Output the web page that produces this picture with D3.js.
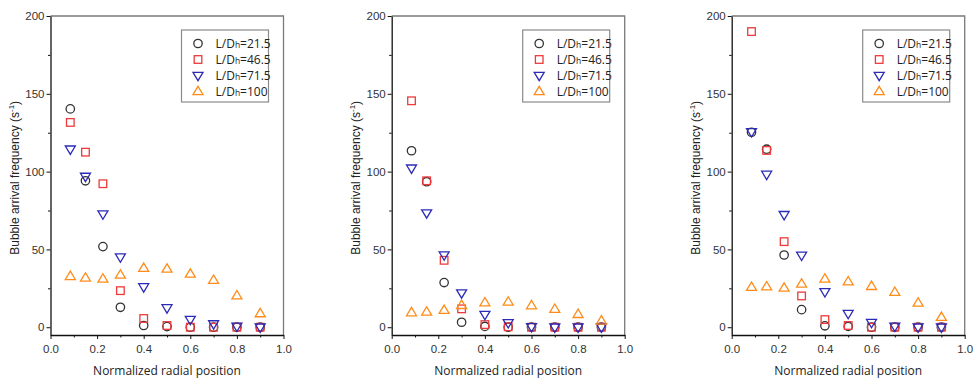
<!DOCTYPE html>
<html><head><meta charset="utf-8">
<script src="https://cdn.jsdelivr.net/npm/d3@7"></script>
<style>body{margin:0;background:#fff}svg{display:block}</style>
</head><body>
<svg id="c" width="973" height="381"></svg>
<script>
const xPos = [0.085, 0.15, 0.225, 0.3, 0.4, 0.5, 0.6, 0.7, 0.8, 0.9];
const seriesNames = ["21.5", "46.5", "71.5", "100"];
const xTicks = [0, 0.2, 0.4, 0.6, 0.8, 1.0];
const yTicks = [0, 50, 100, 150, 200];
// Panel 1
const p1_215 = [140.3, 94.1, 51.8, 12.8, 1.1, 0.4, 0, 0, 0, 0];
const p1_465 = [131.6, 112.5, 92.2, 23.5, 5.6, 1.1, 0, 0, 0, 0];
const p1_715 = [114.4, 96.9, 72.7, 45.1, 25.9, 12.4, 4.9, 2.1, 0.6, 0];
const p1_100 = [32.7, 31.7, 31.0, 33.6, 37.9, 37.4, 34.2, 30.2, 20.3, 8.8];
// Panel 2
const p2_215 = [113.4, 93.5, 28.7, 3.2, 0.5, 0, 0, 0, 0, 0];
const p2_465 = [145.5, 94.1, 43.0, 11.8, 1.7, 0.3, 0, 0, 0, 0];
const p2_715 = [102.2, 73.4, 46.4, 22.0, 8.1, 2.8, 0.3, 0, 0, 0];
const p2_100 = [9.4, 9.8, 10.9, 14.1, 15.8, 16.3, 13.9, 11.6, 8.3, 4.1];
// Panel 3
const p3_215 = [125.3, 114.4, 46.4, 11.3, 0.9, 0.5, 0, 0, 0, 0];
const p3_465 = [190.0, 113.6, 55.0, 20.1, 4.9, 1.1, 0, 0, 0, 0];
const p3_715 = [125.6, 98.2, 72.3, 46.2, 22.7, 8.8, 3.0, 0.6, 0, 0];
const p3_100 = [25.7, 26.1, 25.2, 27.8, 31.0, 29.3, 26.3, 22.5, 15.6, 6.4];

const panels = [
  {left: 50.5, series: [p1_215, p1_465, p1_715, p1_100]},
  {left: 391.7, series: [p2_215, p2_465, p2_715, p2_100]},
  {left: 731.7, series: [p3_215, p3_465, p3_715, p3_100]}
];
const W = 233, plotTop = 16, plotBottom = 335;
const colors = ["#333333", "#ee3a3a", "#2b2bb8", "#ff8c1a"];
const shapes = ["circle", "square", "down", "up"];

const svg = d3.select("#c");

function marker(g, shape, color) {
  let el;
  if (shape === "circle") {
    el = g.append("circle").attr("r", 4.2);
  } else if (shape === "square") {
    el = g.append("rect").attr("x", -3.8).attr("y", -3.8).attr("width", 7.6).attr("height", 7.6);
  } else if (shape === "down") {
    el = g.append("path").attr("d", "M-5,-3.2L5,-3.2L0,5.2Z");
  } else {
    el = g.append("path").attr("d", "M-5,3.2L5,3.2L0,-5.2Z");
  }
  el.attr("fill", "none").attr("stroke", color).attr("stroke-width", 1.3);
  return el;
}

panels.forEach(p => {
  const x = d3.scaleLinear().domain([0, 1]).range([p.left, p.left + W]);
  const y = d3.scaleLinear().domain([-5, 200]).range([plotBottom, plotTop]);
  const g = svg.append("g");

  g.append("path")
    .attr("d", `M${x(0)},${plotTop}H${x(1)}V${plotBottom}`)
    .attr("fill", "none").attr("stroke", "#7a7a7a").attr("stroke-width", 1.3);

  const xa = g.append("g").attr("transform", `translate(0,${plotBottom})`)
    .call(d3.axisBottom(x).tickValues(xTicks).tickFormat(d3.format(".1f")).tickSize(4).tickSizeOuter(0));
  xa.select(".domain").attr("stroke", "#111").attr("stroke-width", 1.3);
  xa.selectAll(".tick line").attr("stroke", "#111");
  xa.selectAll("text").attr("font-family", "Liberation Sans, Arial, sans-serif").attr("font-size", 11.5).attr("fill", "#333").attr("dy", "0.95em");
  g.append("g").attr("transform", `translate(0,${plotBottom})`)
    .call(d3.axisBottom(x).tickValues([0.1, 0.3, 0.5, 0.7, 0.9]).tickFormat("").tickSize(2.5).tickSizeOuter(0))
    .call(s => s.select(".domain").remove())
    .selectAll(".tick line").attr("stroke", "#111");

  const ya = g.append("g").attr("transform", `translate(${x(0)},0)`)
    .call(d3.axisLeft(y).tickValues(yTicks).tickSize(4).tickSizeOuter(0));
  ya.select(".domain").attr("stroke", "#111").attr("stroke-width", 1.3);
  ya.selectAll(".tick line").attr("stroke", "#111");
  ya.selectAll("text").attr("font-family", "Liberation Sans, Arial, sans-serif").attr("font-size", 11.5).attr("fill", "#333").attr("x", -6);
  g.append("g").attr("transform", `translate(${x(0)},0)`)
    .call(d3.axisLeft(y).tickValues([25, 75, 125, 175]).tickFormat("").tickSize(2.5).tickSizeOuter(0))
    .call(s => s.select(".domain").remove())
    .selectAll(".tick line").attr("stroke", "#111");

  g.append("text").attr("x", x(0.5)).attr("y", 375).attr("text-anchor", "middle")
    .attr("font-family", "Open Sans, sans-serif").attr("font-size", 12).attr("fill", "#222")
    .text("Normalized radial position");
  const yl = g.append("text").attr("transform", `translate(${x(0) - 32},${y(96)}) rotate(-90)`)
    .attr("text-anchor", "middle").attr("font-family", "Liberation Sans, Arial, sans-serif")
    .attr("font-size", 12).attr("fill", "#222");
  yl.append("tspan").text("Bubble arrival frequency (s");
  yl.append("tspan").attr("font-size", 8).attr("dy", -5).text("-1");
  yl.append("tspan").attr("dy", 5).text(")");

  p.series.forEach((vals, si) => {
    vals.forEach((v, i) => {
      const mg = g.append("g").attr("transform", `translate(${x(xPos[i])},${y(v)})`);
      marker(mg, shapes[si], colors[si]);
    });
  });

  const lx = x(0) + 131, ly = 30;
  g.append("rect").attr("x", lx).attr("y", ly).attr("width", 87).attr("height", 72)
    .attr("fill", "#fff").attr("stroke", "#8a8a8a").attr("stroke-width", 1.2);
  seriesNames.forEach((n, si) => {
    const cy = ly + 13.5 + si * 16;
    const mg = g.append("g").attr("transform", `translate(${lx + 16.5},${cy})`);
    marker(mg, shapes[si], colors[si]);
    const t = g.append("text").attr("x", lx + 34).attr("y", cy + 4.5)
      .attr("font-family", "Open Sans, sans-serif").attr("font-size", 12).attr("fill", "#222");
    t.append("tspan").text("L/D");
    t.append("tspan").attr("font-size", 8.5).text("h");
    t.append("tspan").text("=" + n);
  });
});
</script>
</body></html>
